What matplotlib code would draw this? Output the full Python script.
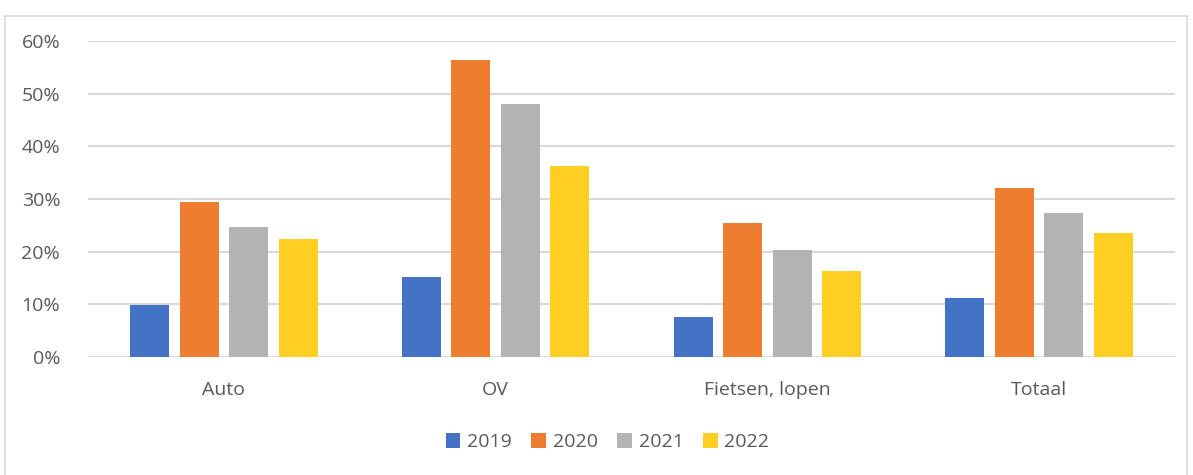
import numpy as np
import matplotlib.pyplot as plt
from matplotlib.patches import Rectangle
from matplotlib.ticker import PercentFormatter

categories = ['Auto', 'OV', 'Fietsen, lopen', 'Totaal']
years = ['2019', '2020', '2021', '2022']
v2019 = [9.8, 15.2, 7.6, 11.2]
v2020 = [29.5, 56.4, 25.4, 32.1]
v2021 = [24.6, 48.1, 20.4, 27.3]
v2022 = [22.4, 36.3, 16.4, 23.5]
series = [v2019, v2020, v2021, v2022]
colors = ['#4472C4', '#ED7D31', '#B3B3B3', '#FFCE22']

plt.rcParams['font.family'] = ['Open Sans', 'DejaVu Sans']
txt = '#595959'

fig = plt.figure(figsize=(11.93, 4.75), dpi=100)
ax = fig.add_axes([88 / 1193, 118 / 475, 1087 / 1193, 316 / 475])

x = np.arange(len(categories))
width = 0.1435
step = 0.182
for i, (vals, col, yr) in enumerate(zip(series, colors, years)):
    ax.bar(x + (i - 1.5) * step, vals, width, color=col, label=yr, zorder=3)

ax.set_xlim(-0.5, len(categories) - 0.5)
ax.set_ylim(0, 60)
ax.set_yticks(range(0, 61, 10))
ax.yaxis.set_major_formatter(PercentFormatter(decimals=0))
ax.set_xticks(x)
ax.set_xticklabels(categories)
ax.grid(axis='y', color='#d9d9d9', linewidth=1.5, zorder=0)
for s in ax.spines.values():
    s.set_visible(False)
ax.tick_params(length=0, labelsize=14, colors=txt)
ax.tick_params(axis='y', pad=20)
ax.tick_params(axis='x', pad=17)

leg = ax.legend(loc='center', bbox_to_anchor=(0.478, -0.27), ncol=4, frameon=False,
                fontsize=14, handlelength=0.75, handleheight=0.75, handletextpad=0.35,
                columnspacing=1.0)
for t in leg.get_texts():
    t.set_color(txt)

fig.patches.append(Rectangle((5 / 1193, -0.01), 1182 / 1193, 464 / 475, transform=fig.transFigure,
                             fill=False, edgecolor='#d9d9d9', linewidth=1.2))

fig.savefig('out.png', dpi=100)
